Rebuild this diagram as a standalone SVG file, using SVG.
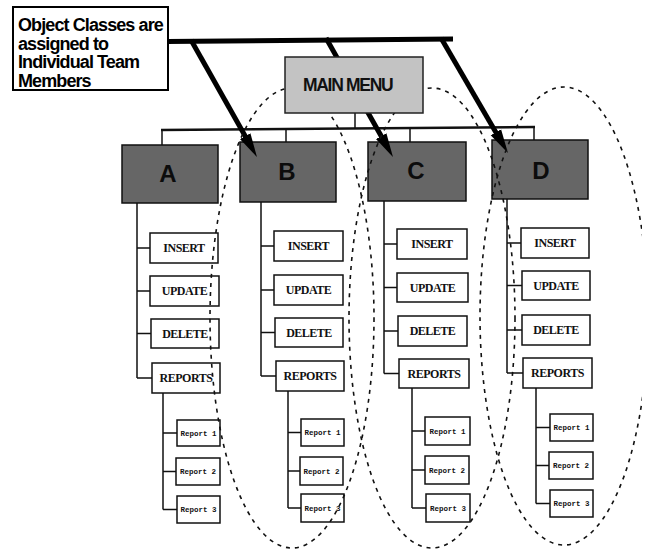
<svg xmlns="http://www.w3.org/2000/svg" width="653" height="551" viewBox="0 0 653 551">
  <style>
    .callout rect { fill: #fff; stroke: #000; stroke-width: 2; }
    .callout text { font-family: "Liberation Sans", Arial, sans-serif; font-weight: bold; font-size: 18px; letter-spacing: -0.9px; fill: #000; }
    .menu rect { fill: #c3c3c3; stroke: #222; stroke-width: 1.5; }
    .menu text { font-family: "Liberation Sans", Arial, sans-serif; font-weight: bold; font-size: 17.5px; letter-spacing: -1.3px; fill: #111; }
    .cls rect { fill: #666; stroke: #111; stroke-width: 1.5; }
    .cls text { font-family: "Liberation Sans", Arial, sans-serif; font-weight: bold; font-size: 24px; fill: #0c0c0c; text-anchor: middle; }
    .op rect { fill: #fff; stroke: #111; stroke-width: 1.5; }
    .op text { font-family: "Liberation Serif", "Times New Roman", serif; font-weight: bold; font-size: 12px; letter-spacing: -0.5px; fill: #111; text-anchor: middle; }
    .rep rect { fill: #fff; stroke: #111; stroke-width: 1.5; }
    .rep text { font-family: "Liberation Mono", "Courier New", monospace; font-weight: bold; font-size: 7.5px; fill: #111; text-anchor: middle; }
    .wire { stroke: #111; stroke-width: 1.5; fill: none; }
    .bus { stroke: #111; stroke-width: 2.5; fill: none; }
    .bar { stroke: #000; stroke-width: 5; fill: none; }
    .team { fill: none; stroke: #111; stroke-width: 1.6; stroke-dasharray: 4 5; }
  </style>
  <defs>
    <marker id="wedge" markerUnits="userSpaceOnUse" viewBox="0 -8 30 16" markerWidth="30" markerHeight="16" refX="8" refY="0" orient="auto">
      <path d="M0,-6 L24,0 L0,6 z" fill="#000"/>
    </marker>
    <clipPath id="page-edge">
      <rect x="0" y="0" width="642" height="551"/>
    </clipPath>
  </defs>

  <rect x="0" y="0" width="653" height="551" fill="#fff"/>

  <!-- operation nodes under each object class -->
  <g id="node-a-insert" class="op"><rect x="150" y="233" width="68" height="30"/><text x="184" y="252">INSERT</text></g>
  <g id="node-a-update" class="op"><rect x="150" y="276" width="69" height="30"/><text x="184.5" y="295">UPDATE</text></g>
  <g id="node-a-delete" class="op"><rect x="151" y="319" width="68" height="29"/><text x="185" y="337.5">DELETE</text></g>
  <g id="node-a-reports" class="op"><rect x="152" y="363" width="68" height="30"/><text x="186" y="382">REPORTS</text></g>
  <g id="node-a-report1" class="rep"><rect x="177" y="420" width="43" height="26"/><text x="198.5" y="435.5">Report 1</text></g>
  <g id="node-a-report2" class="rep"><rect x="176" y="458" width="44" height="27"/><text x="198" y="474">Report 2</text></g>
  <g id="node-a-report3" class="rep"><rect x="177" y="496" width="43" height="27"/><text x="198.5" y="512">Report 3</text></g>

  <g id="node-b-insert" class="op"><rect x="274" y="231" width="69" height="30"/><text x="308.5" y="250">INSERT</text></g>
  <g id="node-b-update" class="op"><rect x="274" y="275" width="69" height="30"/><text x="308.5" y="294">UPDATE</text></g>
  <g id="node-b-delete" class="op"><rect x="275" y="318" width="68" height="29"/><text x="309" y="336.5">DELETE</text></g>
  <g id="node-b-reports" class="op"><rect x="276" y="361" width="68" height="30"/><text x="310" y="380">REPORTS</text></g>
  <g id="node-b-report1" class="rep"><rect x="301" y="419" width="43" height="27"/><text x="322.5" y="435">Report 1</text></g>
  <g id="node-b-report2" class="rep"><rect x="300" y="457" width="43" height="28"/><text x="321.5" y="473.5">Report 2</text></g>
  <g id="node-b-report3" class="rep"><rect x="301" y="494" width="43" height="28"/><text x="322.5" y="510.5">Report 3</text></g>

  <g id="node-c-insert" class="op"><rect x="397" y="229" width="70" height="30"/><text x="432" y="248">INSERT</text></g>
  <g id="node-c-update" class="op"><rect x="397" y="273" width="71" height="29"/><text x="432.5" y="291.5">UPDATE</text></g>
  <g id="node-c-delete" class="op"><rect x="398" y="316" width="69" height="30"/><text x="432.5" y="335">DELETE</text></g>
  <g id="node-c-reports" class="op"><rect x="399" y="359" width="70" height="29"/><text x="434" y="377.5">REPORTS</text></g>
  <g id="node-c-report1" class="rep"><rect x="425" y="417" width="45" height="28"/><text x="447.5" y="433.5">Report 1</text></g>
  <g id="node-c-report2" class="rep"><rect x="425" y="456" width="44" height="28"/><text x="447" y="472.5">Report 2</text></g>
  <g id="node-c-report3" class="rep"><rect x="426" y="494" width="44" height="28"/><text x="448" y="510.5">Report 3</text></g>

  <g id="node-d-insert" class="op"><rect x="521" y="228" width="68" height="30"/><text x="555" y="247">INSERT</text></g>
  <g id="node-d-update" class="op"><rect x="522" y="271" width="68" height="29"/><text x="556" y="289.5">UPDATE</text></g>
  <g id="node-d-delete" class="op"><rect x="522" y="315" width="68" height="30"/><text x="556" y="334">DELETE</text></g>
  <g id="node-d-reports" class="op"><rect x="523" y="358" width="69" height="30"/><text x="557.5" y="377">REPORTS</text></g>
  <g id="node-d-report1" class="rep"><rect x="550" y="414" width="43" height="27"/><text x="571.5" y="430">Report 1</text></g>
  <g id="node-d-report2" class="rep"><rect x="549" y="452" width="44" height="27"/><text x="571" y="468">Report 2</text></g>
  <g id="node-d-report3" class="rep"><rect x="550" y="490" width="43" height="27"/><text x="571.5" y="506">Report 3</text></g>

  <!-- object class nodes -->
  <g id="node-a" class="cls"><rect x="122" y="145" width="96" height="58"/><text x="168" y="182">A</text></g>
  <g id="node-b" class="cls"><rect x="240" y="142" width="96" height="60"/><text x="287" y="180">B</text></g>
  <g id="node-c" class="cls"><rect x="368" y="142" width="98" height="59"/><text x="416" y="179">C</text></g>
  <g id="node-d" class="cls"><rect x="492" y="140" width="96" height="59"/><text x="541" y="179">D</text></g>

  <g id="connectors">
    <!-- main menu to the object classes -->
    <line class="wire" x1="355" y1="113" x2="355" y2="129"/>
    <line class="bus" x1="161" y1="130" x2="535" y2="127"/>
    <line class="wire" x1="162" y1="130" x2="162" y2="145"/>
    <line class="wire" x1="286" y1="129" x2="286" y2="142"/>
    <line class="wire" x1="410" y1="128" x2="410" y2="142"/>
    <line class="wire" x1="534" y1="127" x2="534" y2="140"/>

    <!-- column A -->
    <path class="wire" d="M137 203 V378 M137 248 H150 M137 291 H150 M137 333.5 H151 M137 378 H152"/>
    <path class="wire" d="M163 393 V509.5 M163 433 H177 M163 471.5 H176 M163 509.5 H177"/>
    <!-- column B -->
    <path class="wire" d="M261 202 V376 M261 246 H274 M261 290 H274 M261 332.5 H275 M261 376 H276"/>
    <path class="wire" d="M288 391 V508 M288 432.5 H301 M288 471 H300 M288 508 H301"/>
    <!-- column C -->
    <path class="wire" d="M384 201 V373.5 M384 244 H397 M384 287.5 H397 M384 331 H398 M384 373.5 H399"/>
    <path class="wire" d="M412 388 V508 M412 431 H425 M412 470 H425 M412 508 H426"/>
    <!-- column D -->
    <path class="wire" d="M507 199 V373 M507 243 H521 M507 285.5 H522 M507 330 H522 M507 373 H523"/>
    <path class="wire" d="M536 388 V503.5 M536 427.5 H550 M536 465.5 H549 M536 503.5 H550"/>

    <!-- callout bar with pointers to the assigned classes -->
    <line class="bar" x1="167" y1="41.5" x2="453" y2="39"/>
    <line class="bar" x1="191" y1="40" x2="249.1" y2="143.1" marker-end="url(#wedge)"/>
    <line class="bar" x1="326" y1="38" x2="385.1" y2="143.1" marker-end="url(#wedge)"/>
    <line class="bar" x1="441" y1="38" x2="499.9" y2="139.2" marker-end="url(#wedge)"/>
  </g>

  <!-- team member regions -->
  <g id="team-regions">
    <ellipse class="team" cx="292" cy="318" rx="82" ry="230"/>
    <ellipse class="team" cx="432" cy="318" rx="83" ry="230"/>
    <ellipse class="team" cx="564" cy="316" rx="84" ry="229" clip-path="url(#page-edge)"/>
  </g>

  <g id="node-main-menu" class="menu">
    <rect x="285" y="57" width="138" height="56"/>
    <text x="303" y="91">MAIN MENU</text>
  </g>

  <g id="node-callout" class="callout">
    <rect x="13" y="7" width="155" height="83"/>
    <text x="18" y="31">Object Classes are</text>
    <text x="18" y="49.5">assigned to</text>
    <text x="18" y="68">Individual Team</text>
    <text x="18" y="86.5">Members</text>
  </g>
</svg>
